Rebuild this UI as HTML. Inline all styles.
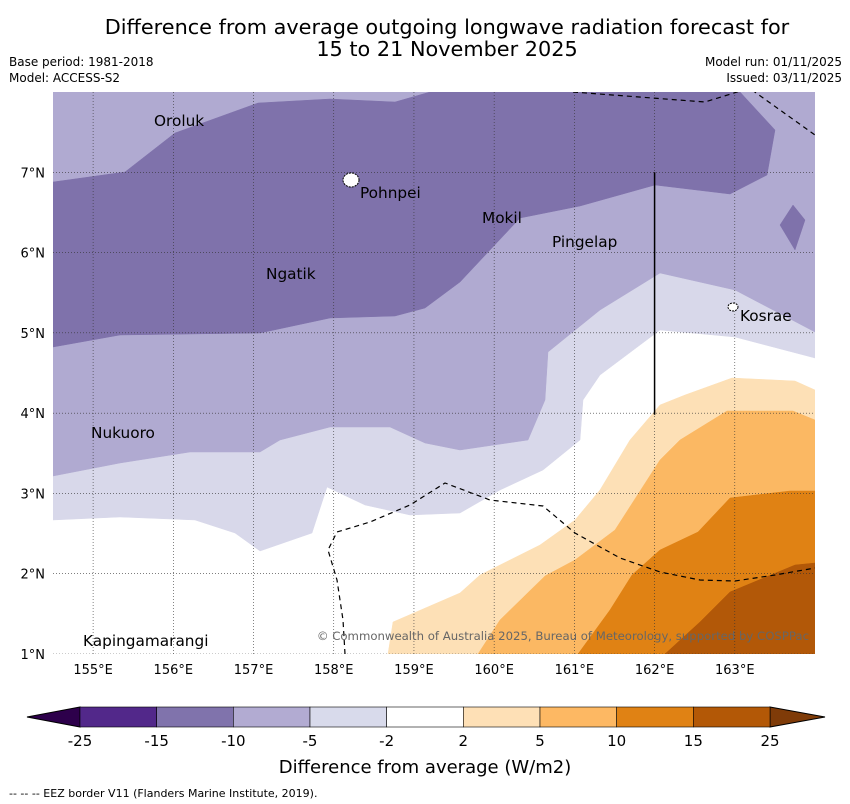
<!DOCTYPE html>
<html><head><meta charset="utf-8"><style>
body{margin:0;background:#fff;width:850px;height:804px;overflow:hidden;font-family:"DejaVu Sans","Liberation Sans",sans-serif}
svg{position:absolute;left:0;top:0}
</style></head><body>
<svg width="850" height="804" viewBox="0 0 850 804">
<text x="447" y="34" text-anchor="middle" font-size="20.8">Difference from average outgoing longwave radiation forecast for</text>
<text x="447" y="56" text-anchor="middle" font-size="20.8">15 to 21 November 2025</text>
<text x="9" y="66" font-size="12">Base period: 1981-2018</text>
<text x="9" y="82" font-size="12">Model: ACCESS-S2</text>
<text x="842" y="66" font-size="12" text-anchor="end">Model run: 01/11/2025</text>
<text x="842" y="82" font-size="12" text-anchor="end">Issued: 03/11/2025</text>
<defs><clipPath id="mapclip"><rect x="53" y="92" width="762" height="562"/></clipPath></defs>
<g id="map" clip-path="url(#mapclip)"></g>
<g id="overlay"></g>
<g id="cbar"></g>
<text x="425" y="773" text-anchor="middle" font-size="18">Difference from average (W/m2)</text>
<text x="9" y="797" font-size="11">--  --  -- EEZ border V11 (Flanders Marine Institute, 2019).</text>
</svg>
<script>
// axes
const lonMin=154.5, lonMax=164.0, latMin=1.0, latMax=8.0;
const lonTicks=[155,156,157,158,159,160,161,162,163];
const latTicks=[1,2,3,4,5,6,7];
const X=lon=>53+(lon-lonMin)/(lonMax-lonMin)*762;
const Y=lat=>654-(lat-latMin)/(latMax-latMin)*562;
const px2lon=x=>lonMin+(x-53)/762*(lonMax-lonMin);
const px2lat=y=>latMin+(654-y)/562*(latMax-latMin);
const toLL=a=>a.map(p=>[px2lon(p[0]),px2lat(p[1])]);
const lvlLight=toLL([[53,92],[815,92],[815,358],[735,337],[660,330],[600,375],[583,400],[580,440],[543,470],[500,490],[460,513],[410,515],[365,505],[327,487],[312,533],[260,551],[235,533],[195,520],[120,517],[53,520]]);
const lvlMed=toLL([[53,92],[815,92],[815,332],[735,290],[660,273],[600,310],[548,352],[545,400],[528,440],[460,450],[425,443],[390,427],[330,427],[280,440],[260,452],[190,452],[120,463],[53,476]]);
const lvlDark=toLL([[53,182],[125,172],[175,133],[258,103],[330,99],[395,102],[430,92],[740,92],[775,130],[767,175],[730,194],[655,185],[580,206],[520,218],[490,250],[460,282],[425,308],[395,316],[330,318],[260,333],[120,335],[53,347]]);
const lvlDark2=toLL([[780,225],[793,205],[805,220],[795,250]]);
const lvlO1=toLL([[388,654],[393,622],[460,593],[480,575],[540,545],[575,520],[600,490],[630,440],[660,405],[685,395],[732,378],[795,381],[815,390],[815,654]]);
const lvlO2=toLL([[478,654],[500,620],[545,576],[575,560],[615,530],[660,460],[680,440],[727,411],[793,411],[815,420],[815,654]]);
const lvlO3=toLL([[578,654],[610,610],[632,575],[660,550],[698,532],[730,498],[790,491],[815,491],[815,654]]);
const lvlO4=toLL([[665,654],[700,622],[730,592],[795,565],[815,563],[815,654]]);
const eez1=toLL([[573,92],[705,102],[750,88]]);
const eez2=toLL([[752,90],[815,135]]);
const eez3=toLL([[345,654],[343,620],[337,580],[328,550],[337,532],[370,522],[410,505],[445,483],[490,500],[543,506],[575,533],[620,558],[660,572],[700,580],[735,581],[775,575],[815,568]]);
const places=[["Oroluk",px2lon(154),px2lat(121)],["Pohnpei",px2lon(360),px2lat(193)],["Mokil",px2lon(482),px2lat(218)],["Pingelap",px2lon(552),px2lat(242)],["Ngatik",px2lon(266),px2lat(274)],["Kosrae",px2lon(740),px2lat(316)],["Nukuoro",px2lon(91),px2lat(433)],["Kapingamarangi",px2lon(83),px2lat(641)]];
const NS='http://www.w3.org/2000/svg';
const map=document.getElementById('map'), ov=document.getElementById('overlay'), cb=document.getElementById('cbar');
function mk(t,a,p){const e=document.createElementNS(NS,t);for(const k in a)e.setAttribute(k,a[k]);p.appendChild(e);return e;}
const pts=a=>a.map(p=>X(p[0]).toFixed(1)+','+Y(p[1]).toFixed(1)).join(' ');
mk('rect',{x:53,y:92,width:762,height:562,fill:'#fff'},map);
[[lvlLight,'#d8d8ea','contour-minus5-minus2'],[lvlMed,'#b0aad1','contour-minus10-minus5'],[lvlDark,'#7f72ab','contour-minus15-minus10'],[lvlDark2,'#7f72ab','contour-minus15-patch'],[lvlO1,'#fde0b6','contour-2-5'],[lvlO2,'#fbb863','contour-5-10'],[lvlO3,'#e08214','contour-10-15'],[lvlO4,'#b25808','contour-15-25']].forEach(([d,c,n])=>{
 const e=mk('polygon',{points:pts(d),fill:c,stroke:c,'stroke-width':0.5},map);
 
 
});
lonTicks.forEach(l=>{const g=mk('line',{x1:X(l),x2:X(l),y1:92,y2:654,stroke:'#333','stroke-width':0.6,'stroke-dasharray':'1,2'},map);
 const t=mk('text',{x:X(l),y:674,'text-anchor':'middle','font-size':13},ov);t.textContent=l+'°E';});
latTicks.forEach(l=>{const g=mk('line',{x1:53,x2:815,y1:Y(l),y2:Y(l),stroke:'#333','stroke-width':0.6,'stroke-dasharray':'1,2'},map);
 const t=mk('text',{x:45,y:Y(l)+5,'text-anchor':'end','font-size':13},ov);t.textContent=l+'°N';});
[eez1,eez2,eez3].forEach(d=>{const e=mk('polyline',{points:pts(d),fill:'none',stroke:'#000','stroke-width':1.2,'stroke-dasharray':'5,4'},map);});
const vl=mk('line',{x1:X(162),x2:X(162),y1:Y(7),y2:Y(3.98),stroke:'#000','stroke-width':1.5},map);


[[px2lon(351),px2lat(180),8,7],[px2lon(733),px2lat(307),5,4]].forEach(p=>{const e=mk('ellipse',{cx:X(p[0]),cy:Y(p[1]),rx:p[2],ry:p[3],fill:'#fff',stroke:'#000','stroke-width':1,'stroke-dasharray':'2,1'},map);});
places.forEach(([n,lo,la])=>{const t=mk('text',{x:X(lo),y:Y(la)+5,'font-size':15.3},map);t.textContent=n;});
const cp=mk('text',{x:809,y:640,'text-anchor':'end','font-size':11.7,fill:'#666'},map);
cp.textContent='© Commonwealth of Australia 2025, Bureau of Meteorology, supported by COSPPac';


const cbTicks=['-25','-15','-10','-5','-2','2','5','10','15','25'];
const cbColors=['#52288a','#8073ac','#b2abd2','#d8daeb','#ffffff','#fee0b6','#fdb863','#e08214','#b35806'];
const cx=i=>80+i*(690/9);
mk('polygon',{points:'80,707 27,717 80,727',fill:'#2d004b',stroke:'#000','stroke-width':1},cb);
mk('polygon',{points:'770,707 825,717 770,727',fill:'#7f3b08',stroke:'#000','stroke-width':1},cb);
cbColors.forEach((c,i)=>{const r=mk('rect',{x:cx(i),y:707,width:690/9,height:20,fill:c,stroke:'#000','stroke-width':0.6},cb);});
cbTicks.forEach((t,i)=>{const e=mk('text',{x:cx(i),y:746,'text-anchor':'middle','font-size':15},cb);e.textContent=t;});
</script>
</body></html>
